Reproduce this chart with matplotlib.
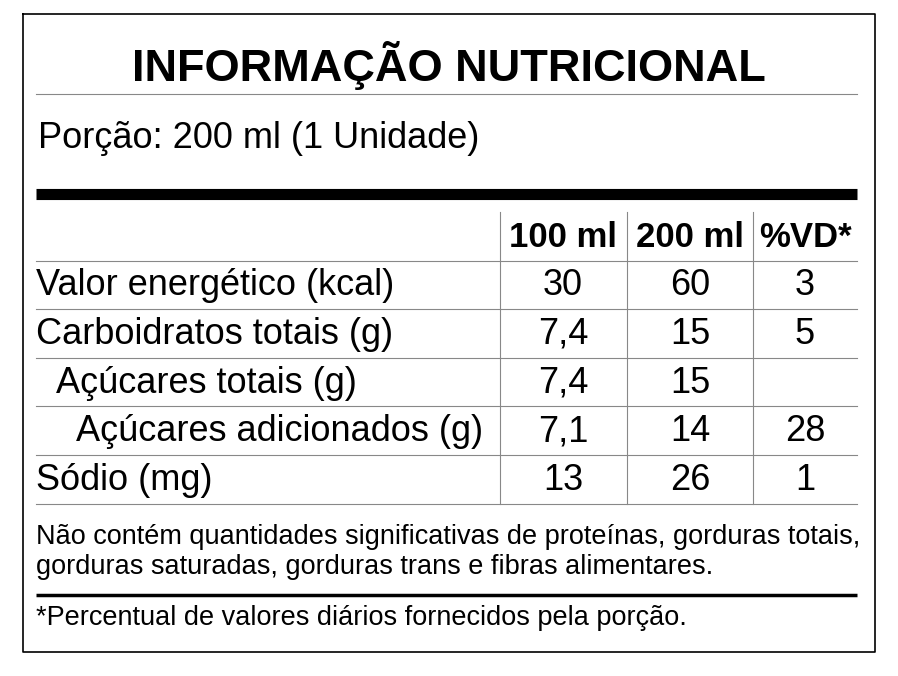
import matplotlib
matplotlib.use("Agg")
import matplotlib.pyplot as plt

plt.rcParams["font.family"] = ["Liberation Sans", "DejaVu Sans"]

title = "INFORMAÇÃO NUTRICIONAL"
portion = "Porção: 200 ml (1 Unidade)"
columns = ["100 ml", "200 ml", "%VD*"]
nutrients = ["Valor energético (kcal)", "Carboidratos totais (g)", "Açúcares totais (g)",
             "Açúcares adicionados (g)", "Sódio (mg)"]
indent = [0, 0, 1, 2, 0]
per_100 = ["30", "7,4", "7,4", "7,1", "13"]
per_200 = ["60", "15", "15", "14", "26"]
pct_vd = ["3", "5", "", "28", "1"]
note = ("Não contém quantidades significativas de proteínas, gorduras totais,\n"
        "gorduras saturadas, gorduras trans e fibras alimentares.")
footnote = "*Percentual de valores diários fornecidos pela porção."

fig = plt.figure(figsize=(8.98, 6.76), dpi=100)
ax = fig.add_axes([0, 0, 1, 1])
ax.set_xlim(0, 898)
ax.set_ylim(676, 0)
ax.axis("off")

# outer frame
ax.plot([23, 875, 875, 23, 23], [14, 14, 652, 652, 14], color="black", lw=1.2)

ax.text(449, 66, title, ha="center", va="center", fontsize=32.5, fontweight="bold")
ax.plot([36, 857], [94, 94], color="#888888", lw=0.8)
ax.text(38, 138, portion, ha="left", va="center", fontsize=26)
ax.plot([36, 857], [193.5, 193.5], color="black", lw=8, solid_capstyle="butt")

# table grid
col_x = [563, 690, 805]
vlines = [500, 627, 753]
row_top = 212
row_h = 48.6
n = len(nutrients)
bottom = row_top + row_h * (n + 1)
for x in vlines:
    ax.plot([x, x], [row_top, bottom], color="#888888", lw=0.8)
for i in range(1, n + 2):
    y = row_top + row_h * i
    ax.plot([36, 857], [y, y], color="#888888", lw=0.8)

for x, c in zip(col_x, columns):
    ax.text(x, row_top + row_h / 2 + 1, c, ha="center", va="center",
            fontsize=25, fontweight="bold")

for i, name in enumerate(nutrients):
    y = row_top + row_h * (i + 1.5) + 1
    ax.text(36 + 20 * indent[i], y, name, ha="left", va="center", fontsize=26)
    for x, v in zip(col_x, (per_100[i], per_200[i], pct_vd[i])):
        ax.text(x, y, v, ha="center", va="center", fontsize=26)

ax.text(36, 552, note, ha="left", va="center", fontsize=19.5, linespacing=1.2)
ax.plot([36, 857], [595, 595], color="black", lw=2.5, solid_capstyle="butt")
ax.text(36, 618, footnote, ha="left", va="center", fontsize=19.5)

fig.savefig("out.png", dpi=100)
